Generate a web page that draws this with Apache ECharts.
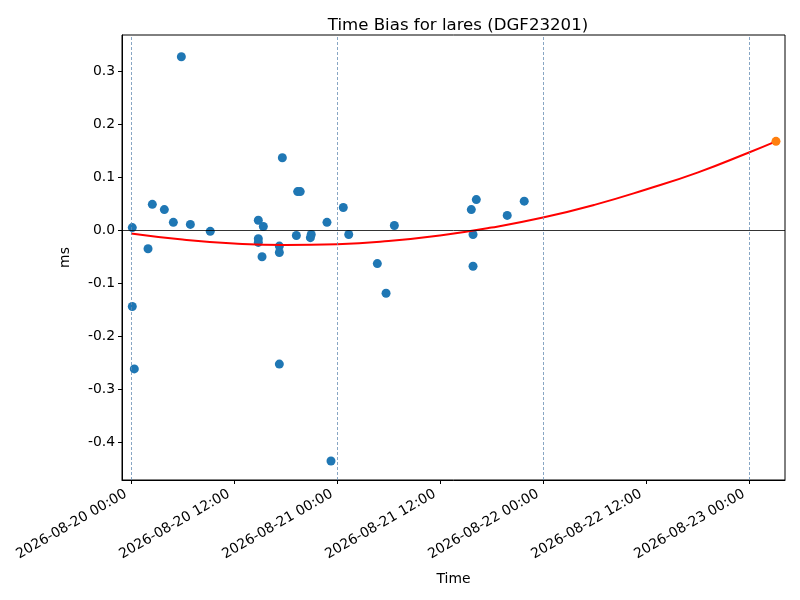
<!DOCTYPE html>
<html>
<head>
<meta charset="utf-8">
<title>Time Bias for lares</title>
<script src="https://cdn.jsdelivr.net/npm/echarts@6/dist/echarts.min.js"></script>
<style>
  html, body { margin: 0; padding: 0; background: #fff; }
  #chart { width: 800px; height: 600px; }
</style>
</head>
<body>
<div id="chart"></div>
<script>
// measured passes (time, bias in ms)
const passTimes = [
  '2026-08-20 00:09', '2026-08-20 00:09', '2026-08-20 00:23', '2026-08-20 01:59',
  '2026-08-20 02:29', '2026-08-20 03:53', '2026-08-20 04:56', '2026-08-20 05:52',
  '2026-08-20 06:55', '2026-08-20 09:14', '2026-08-20 14:50', '2026-08-20 14:50',
  '2026-08-20 14:50', '2026-08-20 15:16', '2026-08-20 15:25', '2026-08-20 17:17',
  '2026-08-20 17:17', '2026-08-20 17:17', '2026-08-20 17:38', '2026-08-20 19:16',
  '2026-08-20 19:25', '2026-08-20 19:43', '2026-08-20 20:54', '2026-08-20 21:00',
  '2026-08-20 22:50', '2026-08-20 23:18', '2026-08-21 00:44', '2026-08-21 01:22',
  '2026-08-21 04:42', '2026-08-21 05:43', '2026-08-21 06:41', '2026-08-21 15:39',
  '2026-08-21 15:51', '2026-08-21 15:51', '2026-08-21 16:14', '2026-08-21 19:50',
  '2026-08-21 21:49'
];
const passBias = [
  0.005, -0.144, -0.262, -0.035,
  0.049, 0.039, 0.015, 0.328,
  0.011, -0.002, 0.019, -0.016,
  -0.023, -0.050, 0.007, -0.030,
  -0.042, -0.253, 0.137, -0.010,
  0.073, 0.073, -0.014, -0.008,
  0.015, -0.436, 0.043, -0.008,
  -0.063, -0.119, 0.009, 0.039,
  -0.008, -0.068, 0.058, 0.028,
  0.055
];

// fitted trend (red curve)
const fitTimes = [
  '2026-08-20 00:00', '2026-08-20 06:00', '2026-08-20 12:00', '2026-08-20 18:00',
  '2026-08-21 00:00', '2026-08-21 06:00', '2026-08-21 12:00', '2026-08-21 18:00',
  '2026-08-22 00:00', '2026-08-22 06:00', '2026-08-22 12:00', '2026-08-22 18:00',
  '2026-08-23 00:00', '2026-08-23 03:09'
];
const fitBias = [
  -0.006, -0.0175, -0.025, -0.028,
  -0.0265, -0.0205, -0.010, 0.005,
  0.024, 0.048, 0.077, 0.109,
  0.147, 0.168
];

// predicted point (orange)
const predTime = '2026-08-23 03:09';
const predBias = 0.168;

const xTicks = [
  '2026-08-20 00:00', '2026-08-20 12:00', '2026-08-21 00:00', '2026-08-21 12:00',
  '2026-08-22 00:00', '2026-08-22 12:00', '2026-08-23 00:00'
];
const dayLines = ['2026-08-20 00:00', '2026-08-21 00:00', '2026-08-22 00:00', '2026-08-23 00:00'];
const yTicks = [-0.4, -0.3, -0.2, -0.1, 0.0, 0.1, 0.2, 0.3];

const xMin = '2026-08-19 22:57';
const xMax = '2026-08-23 04:12';
const yMin = -0.472;
const yMax = 0.369;

const ts = s => new Date(s.replace(' ', 'T') + ':00Z').getTime();
const pad = n => String(n).padStart(2, '0');
const fmtTime = v => {
  const d = new Date(v);
  return d.getUTCFullYear() + '-' + pad(d.getUTCMonth() + 1) + '-' + pad(d.getUTCDate()) +
    ' ' + pad(d.getUTCHours()) + ':' + pad(d.getUTCMinutes());
};

const FONT = 'DejaVu Sans';
const chart = echarts.init(document.getElementById('chart'));

chart.setOption({
  animation: false,
  backgroundColor: '#fff',
  textStyle: { fontFamily: FONT },
  title: {
    text: 'Time Bias for lares (DGF23201)',
    left: 453, top: 12, textAlign: 'center',
    textStyle: { fontFamily: FONT, fontSize: 16.6, fontWeight: 'normal', color: '#000' }
  },
  grid: {
    left: 122, right: 15, top: 35, bottom: 120, containLabel: false,
    show: true, borderColor: '#000', borderWidth: 1, backgroundColor: 'transparent'
  },
  xAxis: {
    // time values in ms, drawn on a value axis so the tick list can be given
    type: 'value',
    min: ts(xMin), max: ts(xMax),
    name: 'Time', nameLocation: 'middle', nameGap: 92,
    nameTextStyle: { fontFamily: FONT, fontSize: 13.9, color: '#000' },
    axisLine: { onZero: false, lineStyle: { color: '#000', width: 1 } },
    axisTick: { customValues: xTicks.map(ts), length: 4, lineStyle: { color: '#000' } },
    axisLabel: {
      customValues: xTicks.map(ts), rotate: 30, margin: 10,
      padding: [0, 6, 0, 0],
      fontFamily: FONT, fontSize: 13.9, color: '#000',
      formatter: v => fmtTime(v)
    },
    splitLine: { show: false }
  },
  yAxis: {
    type: 'value',
    min: yMin, max: yMax,
    name: 'ms', nameLocation: 'middle', nameGap: 50, nameRotate: 90,
    nameTextStyle: { fontFamily: FONT, fontSize: 13.9, color: '#000' },
    axisLine: { show: true, onZero: false, lineStyle: { color: '#000', width: 1 } },
    axisTick: { show: true, customValues: yTicks, length: 4, lineStyle: { color: '#000' } },
    axisLabel: {
      customValues: yTicks, margin: 7,
      fontFamily: FONT, fontSize: 13.9, color: '#000',
      formatter: v => v.toFixed(1)
    },
    splitLine: { show: false }
  },
  series: [
    {
      // reference lines: day boundaries and zero bias
      type: 'line', data: [], silent: true,
      markLine: {
        silent: true, symbol: 'none', label: { show: false },
        data: [
          ...dayLines.map(d => ({
            xAxis: ts(d),
            lineStyle: { color: '#6a8fb5', width: 0.8, type: [3, 2] }
          })),
          { yAxis: 0, lineStyle: { color: '#000', width: 0.8, type: 'solid' } }
        ]
      },
      z: 1
    },
    {
      name: 'bias', type: 'scatter',
      data: passTimes.map((t, i) => [ts(t), passBias[i]]),
      symbolSize: 9,
      itemStyle: { color: '#1f77b4', opacity: 1 },
      z: 3
    },
    {
      name: 'fit', type: 'line', smooth: true,
      data: fitTimes.map((t, i) => [ts(t), fitBias[i]]),
      showSymbol: false,
      lineStyle: { color: '#ff0000', width: 2 },
      z: 4
    },
    {
      name: 'prediction', type: 'scatter',
      data: [[ts(predTime), predBias]],
      symbolSize: 9,
      itemStyle: { color: '#ff7f0e', opacity: 1 },
      z: 5
    }
  ]
});

window.addEventListener('resize', function () {
  chart.resize();
});
</script>
</body>
</html>
